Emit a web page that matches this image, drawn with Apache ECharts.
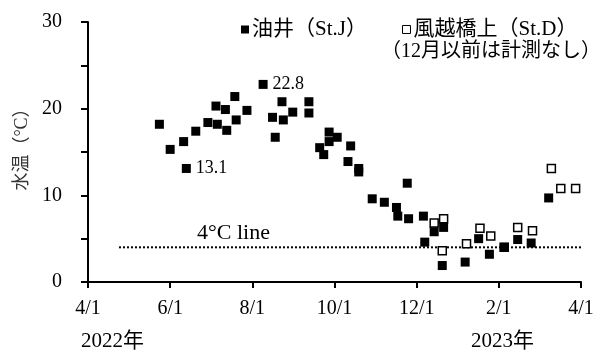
<!DOCTYPE html>
<html>
<head>
<meta charset="utf-8">
<script src="https://cdn.jsdelivr.net/npm/echarts@6/dist/echarts.min.js"></script>
<style>
  html, body { margin: 0; padding: 0; background: #fff; }
  #chart { width: 601px; height: 359px; }
</style>
</head>
<body>
<div id="chart"></div>
<script>
// Water temperature at two stations, Apr 2022 – Mar 2023
const startDate = '2022-04-01';
const xTickLabels = ['4/1', '6/1', '8/1', '10/1', '12/1', '2/1', '4/1'];
const yTickLabels = [0, 10, 20, 30];

// 油井 (St.J)
const datesJ = [
  '2022-05-24', '2022-06-01', '2022-06-11', '2022-06-13', '2022-06-20', '2022-06-29',
  '2022-07-05', '2022-07-06', '2022-07-12', '2022-07-13', '2022-07-19', '2022-07-20',
  '2022-07-28', '2022-08-09', '2022-08-16', '2022-08-18', '2022-08-23', '2022-08-24',
  '2022-08-31', '2022-09-12', '2022-09-12', '2022-09-20', '2022-09-23', '2022-09-27',
  '2022-09-27', '2022-10-03', '2022-10-13', '2022-10-11', '2022-10-19', '2022-10-19',
  '2022-10-29', '2022-11-07', '2022-11-16', '2022-11-17', '2022-11-24', '2022-11-25',
  '2022-12-06', '2022-12-07', '2022-12-14', '2022-12-21', '2022-12-20', '2023-01-06',
  '2023-01-16', '2023-01-24', '2023-02-04', '2023-02-14', '2023-02-24', '2023-03-09'
];
const tempsJ = [
  18.2, 15.3, 16.2, 13.1, 17.4, 18.4,
  20.3, 18.2, 19.9, 17.5, 21.4, 18.7,
  19.8, 22.8, 19.0, 16.7, 20.8, 18.7,
  19.6, 20.8, 19.5, 15.5, 14.7, 17.3,
  16.2, 16.7, 15.7, 13.9, 13.1, 12.7,
  9.6, 9.2, 8.6, 7.6, 11.4, 7.3,
  7.6, 4.6, 5.8, 6.3, 1.9, 2.3,
  5.0, 3.2, 4.0, 4.9, 4.5, 9.7
];
// indices of the points whose value is written beside them (the June low and the August high)
const labelledJ = [3, 13];

// 風越橋上 (St.D) — no measurements before December
const datesD = [
  '2022-12-14', '2022-12-21', '2022-12-20', '2023-01-07', '2023-01-17', '2023-01-25',
  '2023-02-04', '2023-02-14', '2023-02-25', '2023-03-11', '2023-03-18', '2023-03-29'
];
const tempsD = [6.8, 7.3, 3.6, 4.4, 6.2, 5.3, 4.0, 6.3, 5.9, 13.1, 10.8, 10.8];

// 4°C reference line
const refLineDates = ['2022-04-24', '2023-04-02'];
const refLineTemp = 4;

const DAY = 86400000;
const toDay = d => (Date.parse(d) - Date.parse(startDate)) / DAY;

const serif = "'Liberation Serif', 'Noto Sans CJK JP', serif";
const font = px => px + "px 'Liberation Serif', 'Noto Sans CJK JP', serif";

const chart = echarts.init(document.getElementById('chart'), null, { renderer: 'canvas' });

const legendText = { fontFamily: serif, fontSize: 21, color: '#000', padding: [0, 0, 0, -2] };

chart.setOption({
  animation: false,
  backgroundColor: '#fff',
  textStyle: { fontFamily: serif, color: '#000' },
  grid: { left: 88, right: 20, top: 22, bottom: 77 },
  legend: [
    {
      left: 241, top: 19, padding: 0, itemWidth: 8, itemHeight: 8,
      textStyle: legendText,
      data: [{ name: '油井（St.J）', icon: 'rect', itemStyle: { color: '#000' } }]
    },
    {
      left: 402, top: 19, padding: 0, itemWidth: 8, itemHeight: 8,
      textStyle: legendText,
      data: [{ name: '風越橋上（St.D）', icon: 'rect',
               itemStyle: { color: '#fff', borderColor: '#000', borderWidth: 1 } }]
    }
  ],
  xAxis: {
    type: 'value',
    min: 0,
    max: 366,
    interval: 61,
    splitLine: { show: false },
    axisLine: { onZero: false, lineStyle: { color: '#000', width: 2 } },
    axisTick: { show: true, inside: false, length: 6, lineStyle: { color: '#000', width: 2 } },
    axisLabel: {
      margin: 17,
      fontSize: 20,
      fontFamily: serif,
      color: '#000',
      formatter: v => xTickLabels[Math.round(v / 61)]
    }
  },
  yAxis: {
    type: 'value',
    min: 0,
    max: 30,
    interval: 5,
    splitLine: { show: false },
    axisLine: { show: true, lineStyle: { color: '#000', width: 2 } },
    axisTick: { show: true, inside: false, length: 7, lineStyle: { color: '#000', width: 2 } },
    axisLabel: {
      margin: 26,
      fontSize: 20,
      fontFamily: serif,
      color: '#000',
      formatter: v => (yTickLabels.includes(v) ? String(v) : '')
    }
  },
  graphic: [
    // vertical axis title
    { type: 'text', x: 22, y: 145, rotation: Math.PI / 2,
      style: { text: '水温（°C）', font: font(18), fill: '#333', align: 'center', verticalAlign: 'middle' } },
    { type: 'text', left: 381, top: 42,
      style: { text: '（12月以前は計測なし）', font: font(20), fill: '#000' } },
    { type: 'text', left: 197, top: 222,
      style: { text: '4°C line', font: "22px 'Liberation Serif', serif", fill: '#000' } },
    { type: 'text', left: 81, top: 331,
      style: { text: '2022年', font: font(21), fill: '#000' } },
    { type: 'text', left: 471, top: 331,
      style: { text: '2023年', font: font(21), fill: '#000' } }
  ],
  series: [
    {
      name: '4°C line',
      type: 'line',
      symbol: 'none',
      silent: true,
      z: 1,
      lineStyle: { color: '#000', width: 2, type: [2, 2] },
      data: refLineDates.map(d => [toDay(d), refLineTemp])
    },
    {
      name: '風越橋上（St.D）',
      type: 'scatter',
      symbol: 'rect',
      symbolSize: 8,
      z: 2,
      itemStyle: { color: '#fff', borderColor: '#000', borderWidth: 1.5, opacity: 1 },
      data: datesD.map((d, i) => [toDay(d), tempsD[i]])
    },
    {
      name: '油井（St.J）',
      type: 'scatter',
      symbol: 'rect',
      symbolSize: 9,
      z: 3,
      itemStyle: { color: '#000', opacity: 1 },
      label: {
        show: false,
        position: 'right',
        distance: 5,
        fontSize: 18,
        fontFamily: serif,
        color: '#000',
        formatter: p => p.value[1].toFixed(1)
      },
      data: datesJ.map((d, i) => ({
        value: [toDay(d), tempsJ[i]],
        label: { show: labelledJ.includes(i) }
      }))
    }
  ]
});
</script>
</body>
</html>
